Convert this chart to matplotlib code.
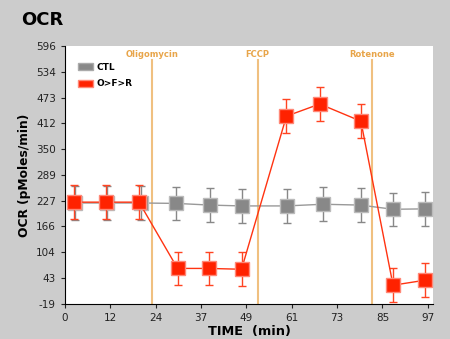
import matplotlib.pyplot as plt
import matplotlib.patches as mpatches

# measurement times (min) and OCR values (pMoles/min)
t_ctl = [2.8, 11.3, 20.2, 29.8, 38.7, 47.2, 59.3, 68.9, 79.0, 87.7, 96.3]
ocr_ctl = [222, 222, 222, 221, 217, 215, 215, 219, 217, 207, 208]
err_ctl = [40, 40, 40, 40, 40, 40, 40, 40, 40, 40, 40]

t_ofr = [2.4, 10.9, 19.8, 30.1, 38.5, 47.2, 59.2, 68.1, 79.1, 87.7, 96.3]
ocr_ofr = [224, 224, 224, 66, 66, 64, 429, 458, 417, 26, 38]
err_ofr = [40, 40, 40, 40, 40, 40, 40, 40, 40, 40, 40]

injections = ['Oligomycin', 'FCCP', 'Rotenone']
inj_times = [23.2, 51.5, 82.0]

yticks = [-19, 43, 104, 166, 227, 289, 350, 412, 473, 534, 596]
xtick_labels = ['0', '12', '24', '37', '49', '61', '73', '85', '97']

fig = plt.figure(figsize=(4.5, 3.39), dpi=100, facecolor='#cccccc')
ax = fig.add_axes([0.1444, 0.103, 0.818, 0.761])
ax.set_facecolor('white')

orange = '#e8a54a'
for name, t in zip(injections, inj_times):
    ax.axvline(t, ymax=0.945, color='#f0c080', lw=1.5, zorder=1)
    ax.text(t, 0.968, name, color=orange, fontsize=6, fontweight='bold',
            ha='center', va='center', transform=ax.get_xaxis_transform())

ax.errorbar(t_ctl, ocr_ctl, yerr=err_ctl, color='#999999', lw=1, marker='s',
            ms=10, mfc='#888888', mec='#bbbbbb', mew=1, ecolor='#888888',
            elinewidth=1, capsize=3, zorder=2)
ax.errorbar(t_ofr, ocr_ofr, yerr=err_ofr, color='#ff3311', lw=1, marker='s',
            ms=10, mfc='#ff2200', mec='#ff8877', mew=1, ecolor='#ff4422',
            elinewidth=1, capsize=3, zorder=3)

ax.set_xlim(0, 98.4)
ax.set_ylim(-19, 596)
ax.set_yticks(yticks)
ax.set_yticklabels([str(v) for v in yticks])
xt = [97 * i / 8 for i in range(9)]
ax.set_xticks(xt)
ax.set_xticklabels(xtick_labels)
ax.tick_params(labelsize=7.5, length=3, width=0.8, colors='#222222')

for s in ['top', 'right']:
    ax.spines[s].set_visible(False)
for s in ['left', 'bottom']:
    ax.spines[s].set_linewidth(0.8)

ax.set_xlabel('TIME  (min)', fontsize=9.3, fontweight='bold', labelpad=1.5)
ax.set_ylabel('OCR (pMoles/min)', fontsize=8.8, fontweight='bold', labelpad=4)

# legend drawn as patches in the corner
h1 = mpatches.Patch(facecolor='#888888', edgecolor='#aaaaaa', label='CTL')
h2 = mpatches.Patch(facecolor='#ff2200', edgecolor='#ff8877', label='O>F>R')
leg = ax.legend(handles=[h1, h2], loc='upper left', frameon=False,
                prop={'size': 6.5, 'weight': 'bold'}, handlelength=1.7,
                handleheight=0.8, labelspacing=0.85, borderaxespad=0.0,
                handletextpad=0.4, bbox_to_anchor=(0.025, 0.95))

fig.text(0.048, 0.94, 'OCR', fontsize=13, fontweight='bold', va='center')

fig.savefig('out.png', dpi=100, facecolor=fig.get_facecolor())
